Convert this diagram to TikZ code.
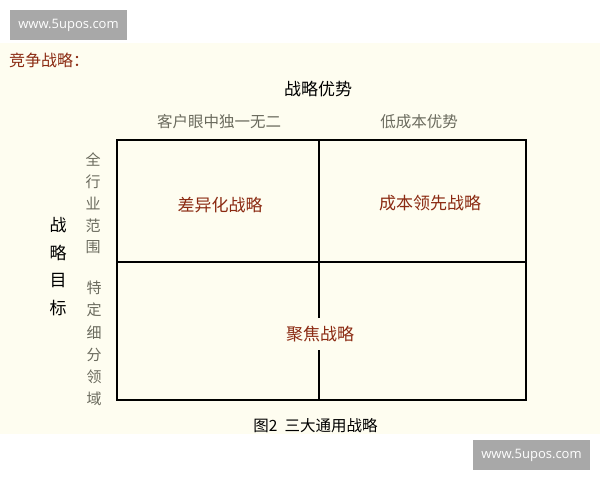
\documentclass[tikz,border=0pt]{standalone}
\usepackage{fontspec}
\setmainfont{Noto Sans CJK SC}
\newfontfamily\wmfont{Open Sans}
\definecolor{cream}{HTML}{FEFDF0}
\definecolor{redtxt}{HTML}{8B2A12}
\definecolor{graytxt}{HTML}{6B6B5E}
\definecolor{wmgray}{HTML}{A8A8A8}
\begin{document}
\begin{tikzpicture}[x=1pt,y=-1pt,
  wmbox/.style={fill=wmgray,text=white,minimum width=117pt,minimum height=30pt,inner sep=0pt,font=\wmfont\fontsize{13}{13}\selectfont},
  lbl/.style={inner sep=0pt,font=\fontsize{#1}{#1}\selectfont},
  cell/.style={inner sep=0pt,text=redtxt,font=\fontsize{17}{17}\selectfont},
  vtext/.style={inner sep=0pt,align=center}]
\useasboundingbox (0,0) rectangle (600,480);
\fill[white] (0,0) rectangle (600,480);
\fill[cream] (0,43) rectangle (600,434);
\node[wmbox] (wm1) at (68.5,25) {www.5upos.com};
\node[wmbox] (wm2) at (531.5,455) {www.5upos.com};
\node[lbl=16,text=redtxt,anchor=west] (title) at (9,60) {竞争战略：};
\node[lbl=17] (top) at (318,89) {战略优势};
\node[lbl=15.5,text=graytxt] (c1) at (219,122) {客户眼中独一无二};
\node[lbl=15.5,text=graytxt] (c2) at (419,122) {低成本优势};
\node[vtext,font=\fontsize{17}{27.7}\selectfont] (side) at (58,266.5) {战\\略\\目\\标};
\node[vtext,text=graytxt,font=\fontsize{15}{21.8}\selectfont] (r1) at (93,203.5) {全\\行\\业\\范\\围};
\node[vtext,text=graytxt,font=\fontsize{15}{22.2}\selectfont] (r2) at (94,343.5) {特\\定\\细\\分\\领\\域};
\draw[line width=2.2pt] (117,140) rectangle (526,400);
\draw[line width=2.2pt] (117,262) -- (526,262);
\draw[line width=2.2pt] (319,140) -- (319,400);
\node[cell] (s1) at (220,205) {差异化战略};
\node[cell] (s2) at (430,203) {成本领先战略};
\node[cell,fill=cream,inner xsep=2pt,inner ysep=8pt] (s3) at (320,334) {聚焦战略};
\node[lbl=15.5] (cap) at (315.5,426) {图2\hspace{0.45em}三大通用战略};
\end{tikzpicture}
\end{document}
